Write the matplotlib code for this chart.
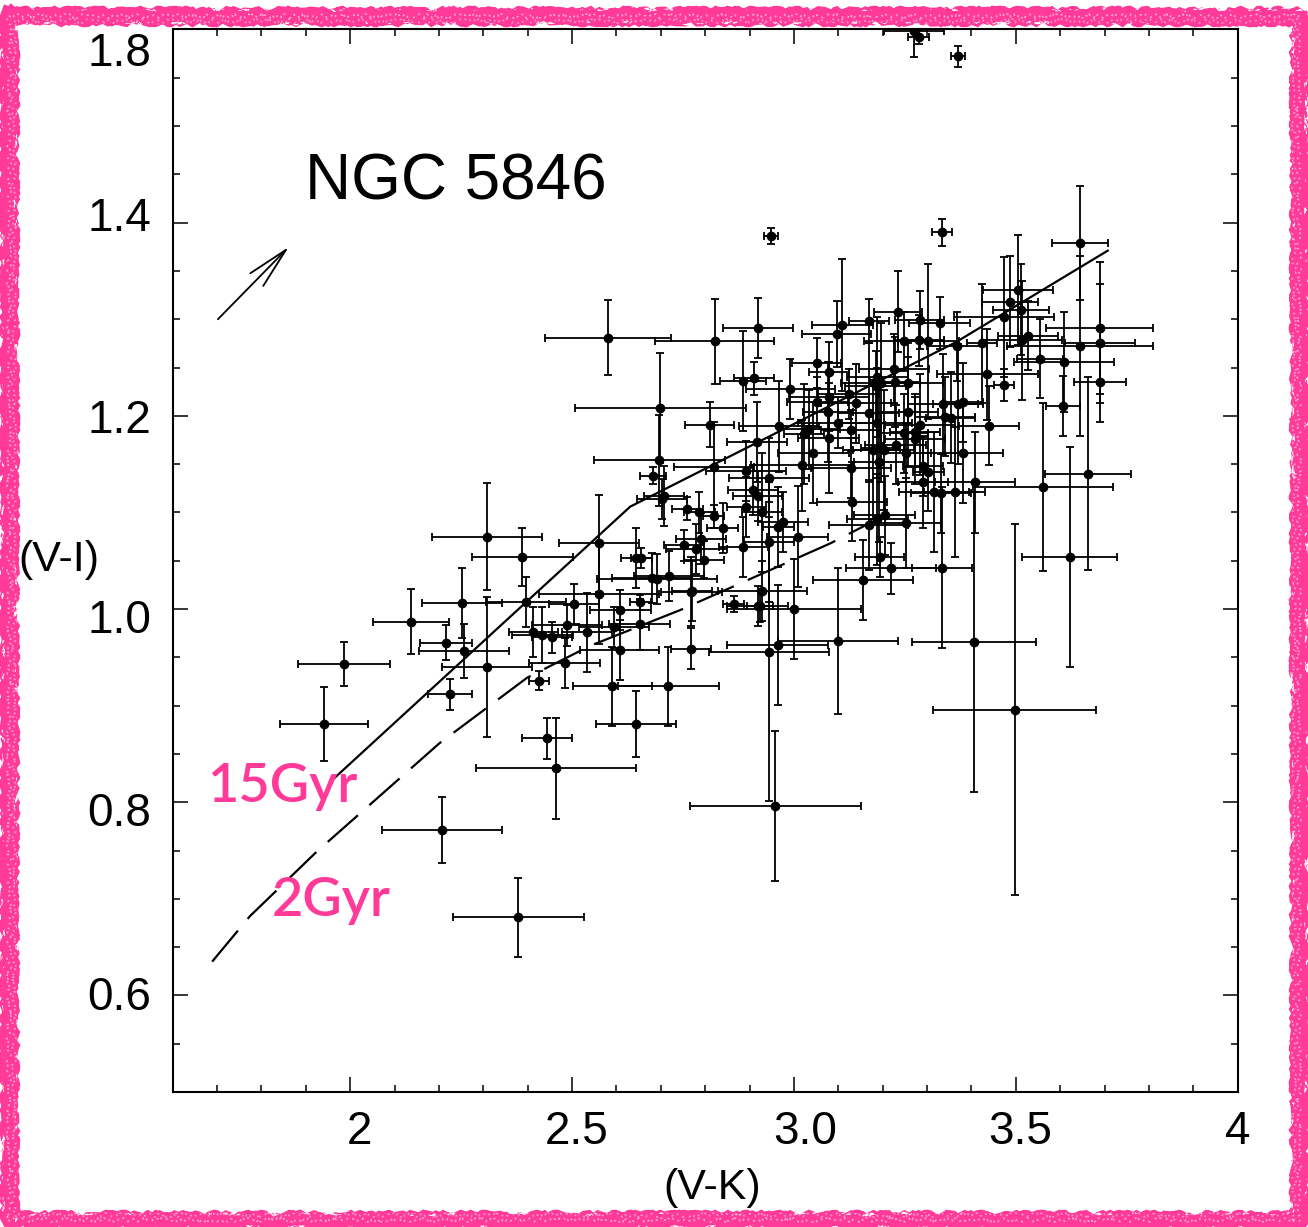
import matplotlib
matplotlib.use("Agg")
import matplotlib.pyplot as plt
import matplotlib.transforms as mtransforms
from matplotlib.lines import Line2D
from matplotlib.ticker import MultipleLocator

plt.rcParams['font.family'] = ['Liberation Sans', 'DejaVu Sans']
plt.rcParams['lines.scale_dashes'] = False

PINK = '#ff3a98'

# globular clusters of NGC 5846: (V-K), (V-I) and their errors
vk = [2.582, 1.986, 1.941, 2.137, 2.216, 2.225, 2.207, 2.379, 2.309, 2.388,
      2.252, 2.257, 2.309, 2.397, 2.413, 2.433, 2.455, 2.489, 2.505, 2.534,
      2.561, 2.609, 2.595, 2.652, 2.654, 2.607, 2.771, 2.767, 2.864, 2.918,
      2.483, 2.426, 2.591, 2.717, 2.645, 2.444, 2.464, 2.821, 2.918, 2.699,
      2.810, 2.886, 2.909, 2.697, 2.683, 2.708, 2.702, 2.819, 2.891, 2.916,
      2.907, 2.918, 2.893, 2.760, 2.787, 2.819, 2.839, 2.790, 2.753, 2.780,
      2.798, 2.886, 2.561, 2.645, 2.656, 2.679, 2.692, 2.719, 2.769, 2.949,
      3.333, 3.109, 3.096, 3.170, 3.234, 3.283, 3.328, 3.247, 3.281, 3.303,
      3.367, 2.992, 3.051, 3.078, 3.078, 3.053, 3.123, 3.139, 3.076, 3.100,
      3.128, 3.035, 3.022, 2.967, 3.078, 3.044, 3.017, 2.943, 2.929, 2.976,
      2.965, 3.008, 2.943, 2.929, 3.128, 3.130, 3.168, 3.188, 3.195, 3.184,
      3.225, 3.227, 3.256, 3.188, 3.256, 3.247, 3.272, 3.272, 3.283, 3.229,
      3.195, 3.179, 3.202, 3.252, 3.191, 3.290, 3.303, 3.290, 3.315, 3.331,
      3.362, 3.336, 3.369, 3.340, 3.353, 3.204, 3.188, 3.168, 3.252, 3.193,
      3.218, 3.155, 3.333, 3.644, 3.504, 3.486, 3.511, 3.473, 3.527, 3.513,
      3.689, 3.689, 3.644, 3.423, 3.554, 3.608, 3.689, 3.436, 3.473, 3.606,
      3.381, 3.439, 3.381, 3.662, 3.561, 3.408, 3.621, 3.405, 3.497, 2.958,
      3.100, 2.963, 2.943, 2.999, 2.923, 3.270, 3.281, 3.369]
vi = [1.281, 0.943, 0.881, 0.987, 0.965, 0.912, 0.771, 0.681, 1.075, 1.054,
      1.006, 0.957, 0.940, 1.007, 0.976, 0.973, 0.971, 0.983, 1.005, 0.976,
      1.016, 0.999, 0.981, 0.984, 1.007, 0.958, 1.019, 0.959, 1.005, 1.003,
      0.944, 0.926, 0.920, 0.920, 0.881, 0.866, 0.835, 1.277, 1.291, 1.208,
      1.191, 1.236, 1.239, 1.154, 1.138, 1.117, 1.114, 1.147, 1.143, 1.173,
      1.123, 1.117, 1.106, 1.104, 1.100, 1.096, 1.084, 1.073, 1.066, 1.062,
      1.051, 1.064, 1.068, 1.053, 1.053, 1.032, 1.031, 1.034, 1.018, 1.386,
      1.390, 1.294, 1.285, 1.298, 1.308, 1.299, 1.296, 1.277, 1.278, 1.277,
      1.272, 1.228, 1.255, 1.245, 1.220, 1.214, 1.223, 1.213, 1.204, 1.193,
      1.185, 1.186, 1.181, 1.189, 1.177, 1.162, 1.149, 1.136, 1.100, 1.090,
      1.085, 1.075, 1.069, 1.019, 1.146, 1.111, 1.203, 1.240, 1.234, 1.231,
      1.249, 1.235, 1.234, 1.193, 1.204, 1.182, 1.183, 1.176, 1.191, 1.170,
      1.167, 1.165, 1.165, 1.162, 1.152, 1.148, 1.142, 1.131, 1.121, 1.120,
      1.121, 1.212, 1.212, 1.199, 1.198, 1.097, 1.093, 1.087, 1.089, 1.054,
      1.042, 1.030, 1.043, 1.379, 1.330, 1.318, 1.310, 1.302, 1.283, 1.278,
      1.291, 1.275, 1.272, 1.275, 1.259, 1.256, 1.235, 1.243, 1.232, 1.210,
      1.214, 1.190, 1.162, 1.140, 1.126, 1.131, 1.054, 0.966, 0.896, 0.796,
      0.967, 0.963, 0.956, 1.000, 1.003, 1.598, 1.592, 1.572]
vk_err = [0.142, 0.104, 0.099, 0.086, 0.059, 0.050, 0.135, 0.147, 0.124, 0.113,
          0.090, 0.101, 0.101, 0.090, 0.056, 0.068, 0.045, 0.079, 0.056, 0.056,
          0.135, 0.068, 0.079, 0.068, 0.023, 0.090, 0.045, 0.045, 0.023, 0.068,
          0.079, 0.023, 0.090, 0.113, 0.090, 0.056, 0.180, 0.135, 0.079, 0.192,
          0.056, 0.052, 0.045, 0.147, 0.029, 0.045, 0.056, 0.090, 0.090, 0.068,
          0.056, 0.056, 0.045, 0.034, 0.034, 0.023, 0.034, 0.056, 0.045, 0.068,
          0.045, 0.056, 0.090, 0.034, 0.023, 0.090, 0.135, 0.079, 0.068, 0.016,
          0.023, 0.068, 0.077, 0.045, 0.054, 0.056, 0.068, 0.090, 0.056, 0.068,
          0.068, 0.101, 0.056, 0.045, 0.090, 0.068, 0.068, 0.079, 0.056, 0.090,
          0.068, 0.068, 0.045, 0.090, 0.068, 0.079, 0.113, 0.090, 0.045, 0.056,
          0.034, 0.068, 0.056, 0.101, 0.090, 0.079, 0.068, 0.068, 0.090, 0.068,
          0.079, 0.056, 0.079, 0.079, 0.068, 0.056, 0.056, 0.068, 0.079, 0.068,
          0.045, 0.068, 0.068, 0.056, 0.056, 0.045, 0.034, 0.056, 0.079, 0.068,
          0.068, 0.079, 0.056, 0.068, 0.056, 0.068, 0.068, 0.090, 0.079, 0.056,
          0.101, 0.113, 0.068, 0.063, 0.079, 0.063, 0.063, 0.113, 0.068, 0.090,
          0.120, 0.079, 0.165, 0.034, 0.052, 0.113, 0.059, 0.113, 0.023, 0.038,
          0.045, 0.068, 0.090, 0.097, 0.158, 0.090, 0.108, 0.140, 0.183, 0.192,
          0.135, 0.113, 0.135, 0.151, 0.029, 0.068, 0.023, 0.016]
vi_err = [0.039, 0.023, 0.038, 0.034, 0.018, 0.016, 0.034, 0.041, 0.055, 0.030,
          0.036, 0.028, 0.072, 0.026, 0.026, 0.029, 0.016, 0.021, 0.021, 0.041,
          0.052, 0.021, 0.021, 0.026, 0.008, 0.031, 0.031, 0.021, 0.008, 0.021,
          0.026, 0.010, 0.041, 0.041, 0.034, 0.021, 0.052, 0.044, 0.031, 0.057,
          0.023, 0.052, 0.017, 0.047, 0.009, 0.031, 0.021, 0.047, 0.031, 0.041,
          0.026, 0.026, 0.031, 0.012, 0.021, 0.012, 0.026, 0.026, 0.016, 0.026,
          0.019, 0.031, 0.050, 0.031, 0.010, 0.026, 0.026, 0.026, 0.036, 0.008,
          0.014, 0.068, 0.034, 0.023, 0.042, 0.030, 0.027, 0.031, 0.026, 0.080,
          0.036, 0.031, 0.026, 0.031, 0.036, 0.026, 0.026, 0.041, 0.052, 0.026,
          0.021, 0.041, 0.052, 0.047, 0.057, 0.052, 0.047, 0.041, 0.062, 0.031,
          0.041, 0.052, 0.062, 0.031, 0.031, 0.041, 0.072, 0.062, 0.062, 0.036,
          0.036, 0.047, 0.041, 0.057, 0.057, 0.041, 0.036, 0.047, 0.052, 0.041,
          0.036, 0.072, 0.062, 0.031, 0.083, 0.031, 0.041, 0.047, 0.062, 0.041,
          0.067, 0.052, 0.062, 0.041, 0.047, 0.041, 0.047, 0.047, 0.047, 0.021,
          0.026, 0.041, 0.083, 0.059, 0.057, 0.047, 0.047, 0.062, 0.036, 0.062,
          0.068, 0.062, 0.093, 0.062, 0.041, 0.052, 0.041, 0.047, 0.017, 0.031,
          0.041, 0.041, 0.052, 0.100, 0.087, 0.052, 0.114, 0.155, 0.192, 0.078,
          0.076, 0.062, 0.155, 0.052, 0.016, 0.027, 0.007, 0.011]

# SSP model tracks
old_vk = [1.962, 2.631, 3.364, 3.707]
old_vi = [0.824, 1.106, 1.276, 1.371]
young_vk = [1.689, 1.774, 1.925, 2.201, 2.399, 2.541, 2.744, 2.886, 3.082, 3.188]
young_vi = [0.635, 0.682, 0.749, 0.861, 0.929, 0.962, 0.999, 1.028, 1.068, 1.093]

xtick_vals = [2.0, 2.5, 3.0, 3.5, 4.0]
xtick_labels = ['2', '2.5', '3.0', '3.5', '4']
xlabel_shift = [9, 5, 11, 4, 0]      # pixels, as placed in the original
ytick_vals = [0.6, 0.8, 1.0, 1.2, 1.4, 1.58]
ytick_labels = ['0.6', '0.8', '1.0', '1.2', '1.4', '1.8']
ylabel_shift = [2, -7, -7, 0, 9, 0]

fig = plt.figure(figsize=(13.08, 12.27), dpi=100)
ax = fig.add_axes([0.1320, 0.1100, 0.8143, 0.8660])

ax.errorbar(vk, vi, xerr=vk_err, yerr=vi_err, fmt='o', color='black',
            ms=6, elinewidth=1.3, capsize=3.2, capthick=1.3, zorder=3)
ax.plot(old_vk, old_vi, color='black', lw=1.6, zorder=4)
ax.plot(young_vk, young_vi, color='black', lw=1.6, linestyle=(0, (29, 11)), zorder=4)

ax.annotate('', xy=(1.862, 1.375), xytext=(1.702, 1.300),
            arrowprops=dict(arrowstyle='->,head_length=3.0,head_width=0.65',
                            lw=1.3, color='black', shrinkA=0, shrinkB=0))

ax.text(1.898, 1.424, 'NGC 5846', fontsize=46, va='baseline', ha='left')
ax.text(1.677, 0.800, '15Gyr', fontsize=39, color=PINK, family=['Lato', 'DejaVu Sans'],
        weight='semibold', va='baseline', ha='left', zorder=6)
ax.text(1.824, 0.682, '2Gyr', fontsize=39, color=PINK, family=['Lato', 'DejaVu Sans'],
        weight='semibold', va='baseline', ha='left', zorder=6)

ax.set_xlim(1.6, 4.0)
ax.set_ylim(0.5, 1.6)
ax.set_xticks(xtick_vals)
ax.set_xticklabels(xtick_labels)
ax.set_yticks(ytick_vals)
ax.set_yticklabels(ytick_labels)
ax.xaxis.set_minor_locator(MultipleLocator(0.1))
ax.yaxis.set_minor_locator(MultipleLocator(0.05))
ax.tick_params(which='both', direction='in', top=True, right=True, width=1.1, colors='black')
ax.tick_params(which='major', length=10.5, labelsize=33)
ax.tick_params(which='minor', length=5)
ax.tick_params(axis='x', which='major', pad=13)
ax.tick_params(axis='y', which='major', pad=15.5)
for s in ax.spines.values():
    s.set_linewidth(1.5)

last = ax.yaxis.get_major_ticks()[-1]
last.tick1line.set_visible(False)
last.tick2line.set_visible(False)
for lab, dy in zip(ax.get_yticklabels(), ylabel_shift):
    lab.set_transform(lab.get_transform() +
                      mtransforms.ScaledTranslation(0, dy / 100, fig.dpi_scale_trans))
for lab, dx in zip(ax.get_xticklabels(), xlabel_shift):
    lab.set_transform(lab.get_transform() +
                      mtransforms.ScaledTranslation(dx / 100, 0, fig.dpi_scale_trans))

ax.set_xlabel('(V-K)', fontsize=31)
ax.xaxis.set_label_coords(0.507, -0.090)
ax.xaxis.label.set_va('center')
ax.set_ylabel('(V-I)', fontsize=31, rotation=0)
ax.yaxis.set_label_coords(-0.1068, 0.5007)
ax.yaxis.label.set_va('center')
ax.yaxis.label.set_ha('center')

# rough pink crayon frame around the whole picture
fx = [0.0065, 0.9931, 0.9931, 0.0065, 0.0065]
fy = [0.9870, 0.9870, 0.0060, 0.0060, 0.9870]
frame = Line2D(fx, fy, transform=fig.transFigure, color=PINK, lw=13.5,
               solid_joinstyle='bevel', solid_capstyle='projecting')
frame.set_sketch_params(1.5, 6, 4)
fig.add_artist(frame)
for off, alpha in [(0.0, 0.55), (0.004, 0.45)]:
    speck = Line2D([fx[0] + off, fx[1] - off, fx[2] - off, fx[3] + off, fx[4] + off],
                   [fy[0] - off, fy[1] - off, fy[2] + off, fy[3] + off, fy[4] - off],
                   transform=fig.transFigure, color='white', lw=1.2, alpha=alpha,
                   linestyle=(0, (1.5, 4)), solid_joinstyle='round')
    speck.set_sketch_params(2, 5, 6)
    fig.add_artist(speck)

fig.savefig('out.png', dpi=100)
